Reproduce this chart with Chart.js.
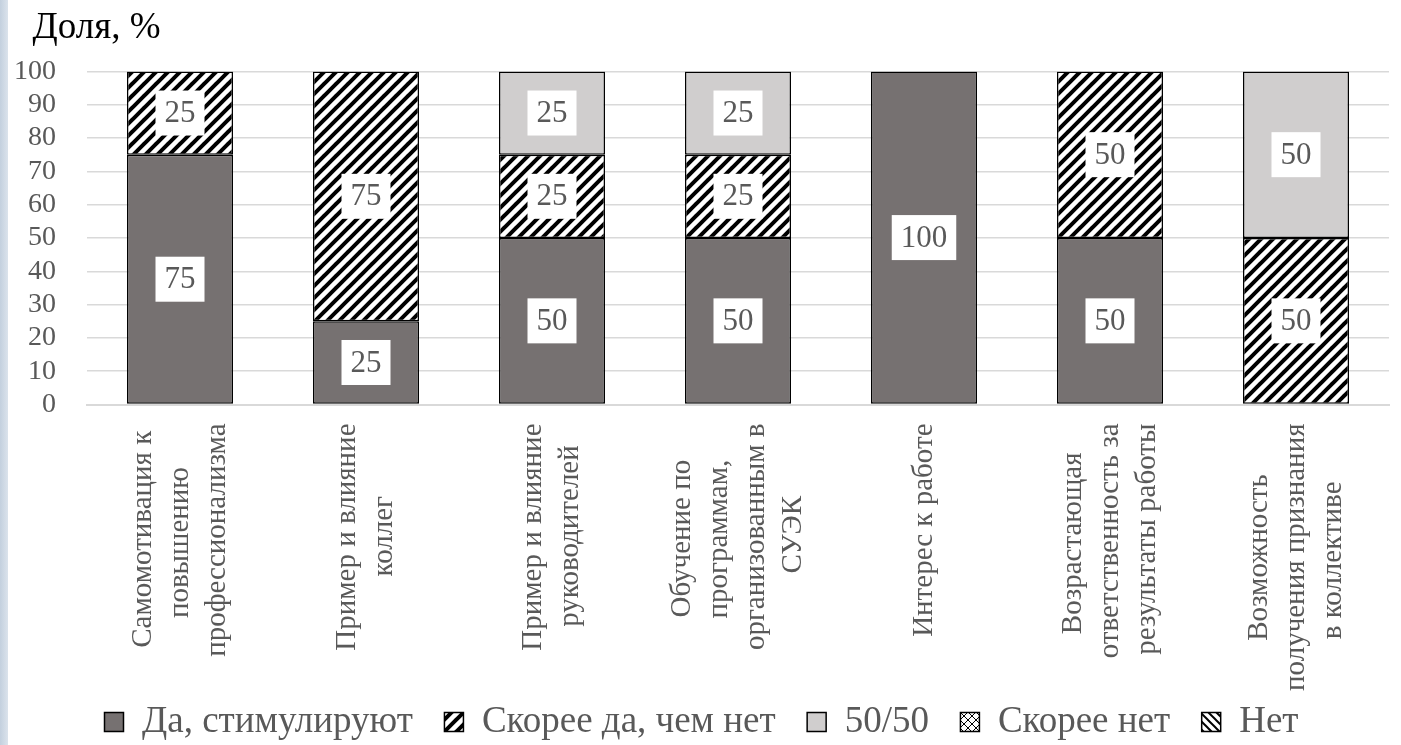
<!DOCTYPE html>
<html lang="ru">
<head>
<meta charset="utf-8">
<title>Доля, %</title>
<script src="https://cdn.jsdelivr.net/npm/chart.js@4.4.1/dist/chart.umd.min.js"></script>
<style>
  html, body { margin: 0; padding: 0; }
  body {
    width: 1401px; height: 745px; overflow: hidden;
    background: linear-gradient(to right, #c3d0de 0, #dbe3ec 8px, #ffffff 8px);
  }
  #wrap { position: relative; width: 1401px; height: 745px; }
</style>
</head>
<body>
<div id="wrap"><canvas id="motivationChart"></canvas></div>
<script>
// Categories (each item = lines of the rotated axis label)
const categories = [
    ['Самомотивация к', 'повышению', 'профессионализма'],
    ['Пример и влияние', 'коллег'],
    ['Пример и влияние', 'руководителей'],
    ['Обучение по', 'программам,', 'организованным в', 'СУЭК'],
    ['Интерес к работе'],
    ['Возрастающая', 'ответственность за', 'результаты работы'],
    ['Возможность', 'получения признания', 'в коллективе']
];

const seriesNames = ['Да, стимулируют', 'Скорее да, чем нет', '50/50', 'Скорее нет', 'Нет'];

// Values, %
const yesValues       = [75, 25, 50, 50, 100, 50, 0];
const ratherYesValues = [25, 75, 25, 25, 0, 50, 50];
const fiftyValues     = [0, 0, 25, 25, 0, 0, 50];
const ratherNoValues  = [0, 0, 0, 0, 0, 0, 0];
const noValues        = [0, 0, 0, 0, 0, 0, 0];

const yTicks = [0, 10, 20, 30, 40, 50, 60, 70, 80, 90, 100];

const SERIF = '"Liberation Serif", "Times New Roman", serif';
const GREY_TEXT = '#595959';

// Hatch fills like the Excel pattern fills
function makePattern(kind) {
    const size = kind === 'fwd' ? 12 : 8;
    const c = document.createElement('canvas');
    c.width = size; c.height = size;
    const g = c.getContext('2d');
    g.fillStyle = '#ffffff';
    g.fillRect(0, 0, size, size);
    g.strokeStyle = '#000000';
    g.lineCap = 'square';
    if (kind === 'fwd') {
        g.lineWidth = 4;
        for (let k = -1; k <= 1; k++) {
            g.beginPath();
            g.moveTo(k * size, size);
            g.lineTo(k * size + size, 0);
            g.stroke();
        }
    } else if (kind === 'back') {
        g.lineWidth = 2;
        for (let k = -1; k <= 1; k++) {
            g.beginPath();
            g.moveTo(k * size, 0);
            g.lineTo(k * size + size, size);
            g.stroke();
        }
    } else {
        g.lineWidth = 1;
        for (let k = -1; k <= 1; k++) {
            g.beginPath();
            g.moveTo(k * size, 0);
            g.lineTo(k * size + size, size);
            g.moveTo(k * size, size);
            g.lineTo(k * size + size, 0);
            g.stroke();
        }
    }
    return g.createPattern(c, 'repeat');
}

// Rotated labels: lines centred on each other and the block centred on the tick.
// Chart.js stacks lines from the tick to the right, so lines go into
// half-height slots (7 of them) and the whole block is shifted back by labelOffset.
const LABEL_SIZE = 29;
const HALF_LINE = 18.5;
const measureCtx = document.createElement('canvas').getContext('2d');
measureCtx.font = LABEL_SIZE + 'px ' + SERIF;
const spaceW = measureCtx.measureText(' ').width;

function layoutLabel(lines) {
    const widths = lines.map(l => measureCtx.measureText(l).width);
    const longest = Math.max(...widths);
    const slots = ['', '', '', '', '', '', ''];
    const start = 3 - (lines.length - 1);
    lines.forEach((line, i) => {
        const pad = Math.round((longest - widths[i]) / 2 / spaceW);
        slots[start + i * 2] = line + ' '.repeat(pad);
    });
    return slots;
}

// Data labels in white boxes
const valueLabels = {
    id: 'valueLabels',
    afterDatasetsDraw(chart) {
        const ctx = chart.ctx;
        ctx.save();
        ctx.font = '31px ' + SERIF;
        ctx.textAlign = 'center';
        ctx.textBaseline = 'middle';
        chart.data.datasets.forEach((ds, i) => {
            const meta = chart.getDatasetMeta(i);
            meta.data.forEach((bar, j) => {
                const v = ds.data[j];
                if (!v) return;
                const p = bar.getProps(['x', 'y', 'base'], true);
                const cy = (p.y + p.base) / 2;
                const w = ctx.measureText(String(v)).width + 18;
                ctx.fillStyle = '#ffffff';
                ctx.fillRect(p.x - w / 2, cy - 22.5, w, 45);
                ctx.fillStyle = GREY_TEXT;
                ctx.fillText(String(v), p.x, cy + 1);
            });
        });
        ctx.restore();
    }
};

const fills = ['#767171', makePattern('fwd'), '#d0cece', makePattern('cross'), makePattern('back')];
const allValues = [yesValues, ratherYesValues, fiftyValues, ratherNoValues, noValues];

const ctx = document.getElementById('motivationChart').getContext('2d');
const motivationChart = new Chart(ctx, {
    type: 'bar',
    data: {
        labels: categories,
        datasets: seriesNames.map((name, i) => ({
            label: name,
            data: allValues[i],
            backgroundColor: fills[i],
            borderColor: '#000000',
            borderWidth: 1.5,
            borderSkipped: false,
            barPercentage: 0.57,
            categoryPercentage: 1
        }))
    },
    options: {
        responsive: true,
        maintainAspectRatio: false,
        animation: false,
        layout: { padding: { left: 14, right: 12, top: 0, bottom: -5.5 } },
        scales: {
            x: {
                stacked: true,
                grid: { display: false },
                border: { color: '#d9d9d9', width: 2 },
                ticks: {
                    autoSkip: false,
                    minRotation: 90,
                    maxRotation: 90,
                    padding: 11,
                    labelOffset: -3 * HALF_LINE,
                    color: GREY_TEXT,
                    font: { family: SERIF, size: LABEL_SIZE, lineHeight: HALF_LINE + 'px' },
                    callback: (value, index) => layoutLabel(categories[index])
                },
                afterFit(scale) {
                    scale.height = 267.5;
                    scale.paddingLeft = 0;
                    scale.paddingRight = 0;
                    // long labels run into the legend, as in the original
                    scale._computeLabelArea = () => undefined;
                }
            },
            y: {
                stacked: true,
                min: 0,
                max: 100,
                border: { display: false },
                grid: { color: '#d9d9d9', lineWidth: 1.5, drawTicks: false },
                afterBuildTicks(scale) { scale.ticks = yTicks.map(v => ({ value: v })); },
                ticks: {
                    autoSkip: false,
                    padding: 31,
                    color: GREY_TEXT,
                    font: { family: SERIF, size: 28 }
                },
                afterFit(scale) { scale.width = 73; }
            }
        },
        plugins: {
            title: {
                display: true,
                text: '  Доля, %',
                align: 'start',
                color: '#000000',
                font: { family: SERIF, size: 37, weight: 'normal' },
                padding: { top: 6, bottom: 21 }
            },
            legend: {
                position: 'bottom',
                labels: {
                    boxWidth: 19,
                    boxHeight: 19,
                    padding: 31.5,
                    color: GREY_TEXT,
                    font: { family: SERIF, size: 37 }
                }
            },
            tooltip: { enabled: false }
        }
    },
    plugins: [valueLabels]
});
</script>
</body>
</html>
